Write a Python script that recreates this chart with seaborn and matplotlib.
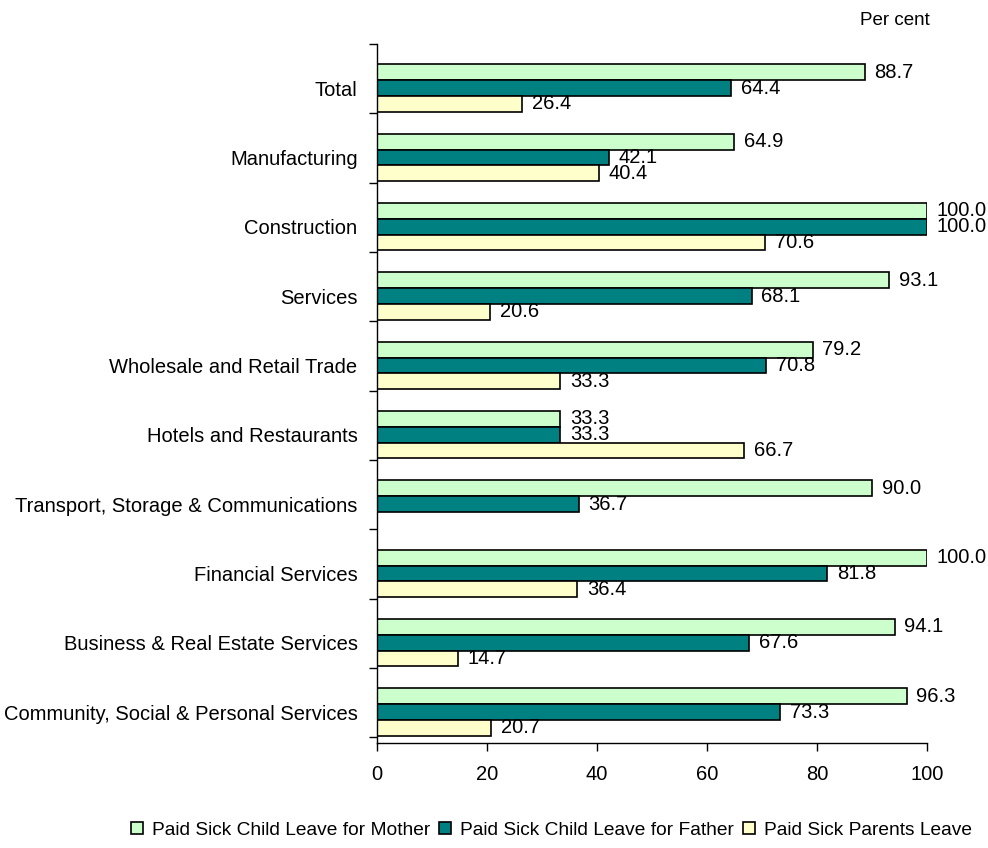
import numpy as np
import pandas as pd
import matplotlib
matplotlib.use("Agg")
import matplotlib.pyplot as plt
import seaborn as sns

categories = [
    "Total",
    "Manufacturing",
    "Construction",
    "Services",
    "Wholesale and Retail Trade",
    "Hotels and Restaurants",
    "Transport, Storage & Communications",
    "Financial Services",
    "Business & Real Estate Services",
    "Community, Social & Personal Services",
]
mother = [88.7, 64.9, 100.0, 93.1, 79.2, 33.3, 90.0, 100.0, 94.1, 96.3]
father = [64.4, 42.1, 100.0, 68.1, 70.8, 33.3, 36.7, 81.8, 67.6, 73.3]
parents = [26.4, 40.4, 70.6, 20.6, 33.3, 66.7, np.nan, 36.4, 14.7, 20.7]
series_names = [
    "Paid Sick Child Leave for Mother",
    "Paid Sick Child Leave for Father",
    "Paid Sick Parents Leave",
]
colors = ["#CCFFCC", "#008080", "#FFFFCC"]
x_ticks = [0, 20, 40, 60, 80, 100]

frames = []
for name, vals in zip(series_names, [mother, father, parents]):
    frames.append(pd.DataFrame({"Sector": categories, "Series": name, "Value": vals}))
df = pd.concat(frames, ignore_index=True)

sns.set_style("white")
plt.rcParams["font.family"] = ["Liberation Sans", "DejaVu Sans"]
plt.rcParams["text.color"] = "black"
plt.rcParams["xtick.color"] = "black"
plt.rcParams["ytick.color"] = "black"

FS = 14.5

fig = plt.figure(figsize=(9.88, 8.48), dpi=100)
ax = fig.add_axes([0.3816, 0.1238, 0.5567, 0.8243])

sns.barplot(
    data=df, y="Sector", x="Value", hue="Series", orient="h",
    order=categories, hue_order=series_names, palette=colors, saturation=1,
    width=0.68, edgecolor="black", linewidth=1.2, errorbar=None, ax=ax,
)

for container in ax.containers:
    labels = [f"{b.get_width():.1f}" for b in container]
    ax.bar_label(container, labels=labels, padding=7, fontsize=FS, color="black")

ax.set_xticks(x_ticks)
ax.set_xticklabels([str(t) for t in x_ticks])
ax.set_xlabel("")
ax.set_ylabel("")

# category boundaries as outward minor ticks, labels on major positions
ax.set_yticks(np.arange(-0.635, len(categories) - 0.5, 1.0), minor=True)
ax.tick_params(axis="y", which="major", length=0, pad=14, labelsize=FS)
ax.tick_params(axis="y", which="minor", length=6, width=1, direction="out", left=True)
ax.tick_params(axis="x", which="major", length=6, width=1, direction="out",
               bottom=True, pad=10, labelsize=FS)

ax.set_xlim(0, 100)
ax.set_ylim(len(categories) - 1 + 0.447, -0.635)

for side in ["top", "right"]:
    ax.spines[side].set_visible(False)
for side in ["left", "bottom"]:
    ax.spines[side].set_color("black")
    ax.spines[side].set_linewidth(1)

ax.legend_.remove()
handles = [plt.Rectangle((0, 0), 1, 1, facecolor=c, edgecolor="black", linewidth=1.2)
           for c in colors]
fig.legend(handles, series_names, loc="center", bbox_to_anchor=(0.558, 0.021),
           ncol=3, frameon=False, fontsize=13.8, handlelength=0.65, handleheight=0.65,
           handletextpad=0.45, columnspacing=0.45)

fig.text(0.9413, 0.976, "Per cent", ha="right", va="center", fontsize=13.5)

fig.savefig("out.png", dpi=100, facecolor="white")
